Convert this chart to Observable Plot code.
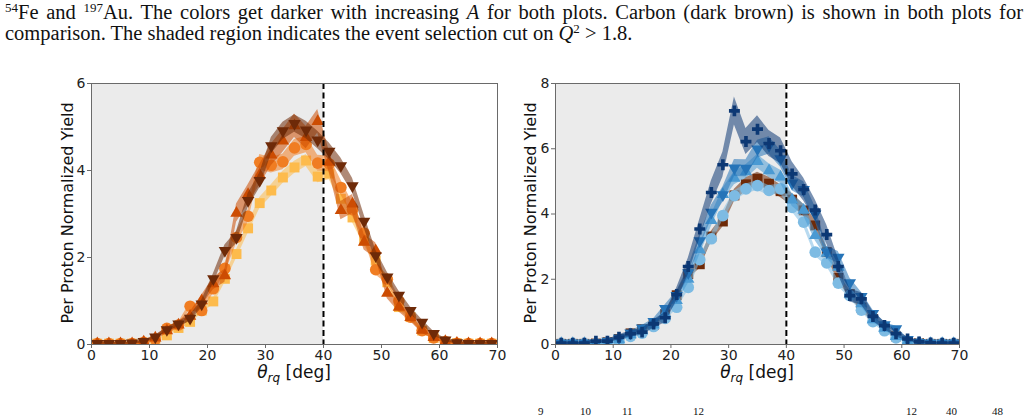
<!DOCTYPE html>
<html>
<head>
<meta charset="utf-8">
<script src="https://cdn.jsdelivr.net/npm/d3@7"></script>
<script src="https://cdn.jsdelivr.net/npm/@observablehq/plot@0.6"></script>
<style>
  html, body { margin: 0; padding: 0; background: #fff; }
  #page { position: relative; width: 1028px; height: 418px; overflow: hidden; }
  .cap { position: absolute; left: 5px; font-family: "Liberation Serif", serif; font-size: 20.5px; color: #111; line-height: 21px; z-index: 2; }
  .cap sup { font-size: 13px; vertical-align: 7px; line-height: 0; }
  #cap1 { top: 2px; width: 1018px; text-align: justify; text-align-last: justify; }
  #cap2 { top: 23px; white-space: nowrap; }
  .frag { position: absolute; top: 406px; font-family: "Liberation Serif", serif; font-size: 11px; color: #111; line-height: 11px; }
  .panel { position: absolute; top: 0; }
  #left { left: 0; }
  #right { left: 514px; }
</style>
</head>
<body>
<div id="page">
  <div class="cap" id="cap1"><sup>54</sup>Fe and <sup>197</sup>Au. The colors get darker with increasing <i>A</i> for both plots. Carbon (dark brown) is shown in both plots for</div>
  <div class="cap" id="cap2">comparison. The shaded region indicates the event selection cut on <i>Q</i><sup>2</sup> &gt; 1.8.</div>
  <span class="frag" style="left:538px">9</span>
  <span class="frag" style="left:580px">10</span>
  <span class="frag" style="left:622px">11</span>
  <span class="frag" style="left:693px">12</span>
  <span class="frag" style="left:906px">12</span>
  <span class="frag" style="left:946px">40</span>
  <span class="frag" style="left:992px">48</span>
  <div class="panel" id="left"></div>
  <div class="panel" id="right"></div>
</div>
<script>
// Bin centres of the scattering angle θ_rq (deg)
const theta = [1, 3, 5, 7, 9, 11, 13, 15, 17, 19, 21, 23, 25, 27, 29, 31, 33, 35,
               37, 39, 41, 43, 45, 47, 49, 51, 53, 55, 57, 59, 61, 63, 65, 67, 69];

// Per-proton normalised yields, one value per θ bin
const yBe9 = [0.02, 0.02, 0.02, 0.02, 0.04, 0.08, 0.21, 0.38, 0.52, 0.78, 0.99, 1.51, 2.08, 2.67, 3.25, 3.54, 3.84, 4.07,
              4.23, 3.86, 3.93, 3.35, 2.92, 2.39, 1.93, 1.43, 0.86, 0.63, 0.32, 0.15, 0.06, 0.03, 0.02, 0.02, 0.02];
const yB10 = [0.02, 0.02, 0.02, 0.02, 0.05, 0.12, 0.37, 0.45, 0.88, 0.78, 1.28, 1.75, 2.46, 2.95, 4.19, 4.12, 4.2, 4.52,
              4.6, 4.17, 4.15, 3.61, 3.1, 2.56, 1.72, 1.5, 1.0, 0.63, 0.32, 0.15, 0.07, 0.03, 0.02, 0.02, 0.02];
const yB11 = [0.02, 0.02, 0.02, 0.02, 0.06, 0.15, 0.32, 0.45, 0.65, 1.01, 1.4, 1.58, 3.02, 3.45, 3.9, 4.36, 4.68, 5.03,
              4.76, 5.13, 4.19, 3.08, 3.23, 2.35, 2.16, 1.18, 0.86, 0.62, 0.33, 0.16, 0.07, 0.03, 0.02, 0.02, 0.02];
const yC12 = [0.02, 0.02, 0.02, 0.03, 0.07, 0.17, 0.34, 0.47, 0.6, 0.93, 1.51, 2.16, 2.46, 3.31, 3.77, 4.57, 4.91, 5.08,
              4.93, 4.7, 4.44, 4.11, 3.65, 2.83, 2.04, 1.55, 1.13, 0.78, 0.51, 0.25, 0.1, 0.04, 0.02, 0.02, 0.02];
const yCa40 = [0.02, 0.02, 0.02, 0.02, 0.05, 0.1, 0.25, 0.35, 0.55, 0.8, 1.14, 1.75, 2.6, 3.24, 3.95, 4.56, 4.77, 4.87,
               4.72, 4.77, 4.2, 3.75, 2.83, 2.5, 1.88, 1.5, 1.05, 0.7, 0.42, 0.2, 0.08, 0.04, 0.02, 0.02, 0.02];
const yCa48 = [0.03, 0.03, 0.03, 0.03, 0.06, 0.15, 0.3, 0.42, 0.6, 0.95, 1.35, 2.0, 2.9, 3.8, 4.6, 5.1, 5.3, 5.61,
               5.33, 5.14, 4.43, 4.12, 3.34, 2.8, 2.37, 1.55, 1.25, 0.76, 0.5, 0.25, 0.1, 0.04, 0.03, 0.03, 0.03];
const yFe54 = [0.04, 0.04, 0.04, 0.04, 0.1, 0.2, 0.35, 0.5, 0.7, 1.1, 1.5, 2.2, 3.18, 4.05, 4.59, 5.41, 5.4, 5.99,
               6.1, 5.69, 4.95, 4.75, 4.0, 2.83, 2.67, 1.89, 1.47, 0.95, 0.6, 0.48, 0.15, 0.06, 0.04, 0.04, 0.04];
const yAu197 = [0.04, 0.04, 0.04, 0.1, 0.1, 0.22, 0.33, 0.38, 0.63, 0.82, 1.53, 2.39, 3.54, 4.66, 5.51, 7.16, 6.22, 6.6,
                6.16, 5.94, 5.23, 4.75, 4.12, 3.37, 2.39, 1.5, 1.4, 0.86, 0.58, 0.33, 0.17, 0.08, 0.05, 0.04, 0.04];

// Uncertainty half-widths of the shaded bands, one per θ bin
const eBe9 = [0.03, 0.03, 0.03, 0.03, 0.03, 0.03, 0.03, 0.04, 0.05, 0.06, 0.07, 0.09, 0.1, 0.11, 0.13, 0.13, 0.14, 0.14,
              0.14, 0.14, 0.14, 0.13, 0.12, 0.11, 0.1, 0.08, 0.07, 0.06, 0.04, 0.03, 0.03, 0.03, 0.03, 0.03, 0.03];
const eB10 = [0.03, 0.03, 0.03, 0.03, 0.03, 0.03, 0.05, 0.06, 0.08, 0.08, 0.1, 0.12, 0.14, 0.15, 0.18, 0.18, 0.18, 0.19,
              0.19, 0.18, 0.18, 0.17, 0.16, 0.14, 0.12, 0.11, 0.09, 0.07, 0.05, 0.04, 0.03, 0.03, 0.03, 0.03, 0.03];
const eB11 = [0.03, 0.03, 0.03, 0.03, 0.03, 0.05, 0.07, 0.08, 0.1, 0.12, 0.14, 0.15, 0.21, 0.22, 0.24, 0.25, 0.26, 0.27,
              0.26, 0.27, 0.25, 0.21, 0.22, 0.18, 0.18, 0.13, 0.11, 0.09, 0.07, 0.05, 0.03, 0.03, 0.03, 0.03, 0.03];
const eC12 = [0.03, 0.03, 0.03, 0.03, 0.03, 0.04, 0.05, 0.06, 0.07, 0.09, 0.11, 0.13, 0.14, 0.16, 0.17, 0.19, 0.2, 0.2,
              0.2, 0.2, 0.19, 0.18, 0.17, 0.15, 0.13, 0.11, 0.1, 0.08, 0.06, 0.05, 0.03, 0.03, 0.03, 0.03, 0.03];
const eCa40 = [0.04, 0.04, 0.04, 0.04, 0.04, 0.04, 0.04, 0.04, 0.05, 0.06, 0.07, 0.09, 0.11, 0.13, 0.14, 0.15, 0.15, 0.15,
               0.15, 0.15, 0.14, 0.14, 0.12, 0.11, 0.1, 0.09, 0.07, 0.06, 0.05, 0.04, 0.04, 0.04, 0.04, 0.04, 0.04];
const eCa48 = [0.04, 0.04, 0.04, 0.04, 0.04, 0.04, 0.05, 0.06, 0.07, 0.09, 0.1, 0.13, 0.15, 0.18, 0.19, 0.2, 0.21, 0.21,
               0.21, 0.2, 0.19, 0.18, 0.16, 0.15, 0.14, 0.11, 0.1, 0.08, 0.06, 0.05, 0.04, 0.04, 0.04, 0.04, 0.04];
const eFe54 = [0.04, 0.04, 0.04, 0.04, 0.04, 0.05, 0.06, 0.08, 0.09, 0.12, 0.13, 0.16, 0.2, 0.22, 0.24, 0.26, 0.26, 0.27,
               0.27, 0.26, 0.24, 0.24, 0.22, 0.18, 0.18, 0.15, 0.13, 0.11, 0.08, 0.08, 0.04, 0.04, 0.04, 0.04, 0.04];
const eAu197 = [0.04, 0.04, 0.04, 0.05, 0.05, 0.08, 0.09, 0.1, 0.13, 0.15, 0.2, 0.25, 0.3, 0.35, 0.38, 0.43, 0.4, 0.41,
                0.4, 0.39, 0.37, 0.35, 0.32, 0.29, 0.25, 0.2, 0.19, 0.15, 0.12, 0.09, 0.07, 0.04, 0.04, 0.04, 0.04];

// Event-selection cut boundary (deg) and axis ticks
const thetaCut = 40;
const xTicks = [0, 10, 20, 30, 40, 50, 60, 70];
const yTicksLeft = [0, 2, 4, 6];
const yTicksRight = [0, 2, 4, 6, 8];

// Downward-pointing triangle, the mirror of d3.symbolTriangle
const sqrt3 = Math.sqrt(3);
const triangleDown = {
  draw(context, size) {
    const y = -Math.sqrt(size / (sqrt3 * 3));
    context.moveTo(0, -y * 2);
    context.lineTo(-sqrt3 * y, y);
    context.lineTo(sqrt3 * y, y);
    context.closePath();
  }
};

const leftSeries = [
  {values: yBe9, errors: eBe9, color: "#fdbb4c", symbol: "square", r: 5.6},
  {values: yB10, errors: eB10, color: "#f07d22", symbol: "circle", r: 5.8},
  {values: yB11, errors: eB11, color: "#cc4c02", symbol: "triangle", r: 4.6},
  {values: yC12, errors: eC12, color: "#6e2a08", symbol: triangleDown, r: 4.6}
];
const rightSeries = [
  {values: yC12, errors: eC12, color: "#6e2a08", symbol: "square", r: 5.6},
  {values: yCa40, errors: eCa40, color: "#7dbbe3", symbol: "circle", r: 5.8},
  {values: yCa48, errors: eCa48, color: "#4a9ad3", symbol: "triangle", r: 4.6},
  {values: yFe54, errors: eFe54, color: "#2674b8", symbol: triangleDown, r: 4.6},
  {values: yAu197, errors: eAu197, color: "#0c3874", symbol: "cross", r: 4.6}
];

function rows(values, errors) {
  return theta.map((t, i) => ({theta: t, y: values[i], lo: values[i] - errors[i], hi: values[i] + errors[i]}));
}

function panel(series, yMax, yTicks, margins) {
  const marks = [
    Plot.rect([{lo: 0, hi: thetaCut}], {x1: "lo", x2: "hi", fill: "#ebebeb"})
  ];
  for (const s of series) {
    const data = rows(s.values, s.errors);
    marks.push(Plot.areaY(data, {x: "theta", y1: "lo", y2: "hi", fill: s.color, fillOpacity: 0.55, clip: true}));
    marks.push(Plot.dot(data, {x: "theta", y: "y", symbol: s.symbol, r: s.r, fill: s.color, stroke: "none", clip: true}));
  }
  marks.push(Plot.ruleX([thetaCut], {stroke: "#000", strokeWidth: 2, strokeDasharray: "6,3.5"}));
  marks.push(Plot.frame({stroke: "#6a6a6a", strokeWidth: 1}));
  marks.push(Plot.axisX({ticks: xTicks, tickFormat: d => String(d), tickSize: 4, tickPadding: 2, stroke: "#6a6a6a", fill: "#222", label: null}));
  marks.push(Plot.axisY({ticks: yTicks, tickFormat: d => String(d), tickSize: 4, tickPadding: 2, stroke: "#6a6a6a", fill: "#222", label: null}));
  return Plot.plot({
    width: 514,
    height: 418,
    ...margins,
    style: {fontFamily: "DejaVu Sans", fontSize: "14px", background: "transparent", overflow: "visible"},
    x: {domain: [0, 70]},
    y: {domain: [0, yMax]},
    marks
  });
}

function addLabels(svg, cx, yLabelX, cy) {
  const s = d3.select(svg);
  const t = s.append("text")
    .attr("x", cx).attr("y", 378).attr("text-anchor", "middle")
    .attr("font-family", "DejaVu Sans").attr("font-size", 17).attr("fill", "#111");
  t.append("tspan").attr("font-style", "italic").text("θ");
  t.append("tspan").attr("font-style", "italic").attr("font-size", 12).attr("dy", 4).text("rq");
  t.append("tspan").attr("dy", -4).text(" [deg]");
  s.append("text")
    .attr("transform", `translate(${yLabelX},${cy}) rotate(-90)`)
    .attr("text-anchor", "middle")
    .attr("font-family", "DejaVu Sans").attr("font-size", 16).attr("fill", "#111")
    .text("Per Proton Normalized Yield");
}

const m = {marginTop: 83, marginBottom: 74};
const leftPlot = panel(leftSeries, 6, yTicksLeft, {...m, marginLeft: 91, marginRight: 17});
addLabels(leftPlot, 294, 73, 213);
document.getElementById("left").appendChild(leftPlot);

const rightPlot = panel(rightSeries, 8, yTicksRight, {...m, marginLeft: 41, marginRight: 69});
addLabels(rightPlot, 243, 22, 213);
document.getElementById("right").appendChild(rightPlot);
</script>
</body>
</html>
